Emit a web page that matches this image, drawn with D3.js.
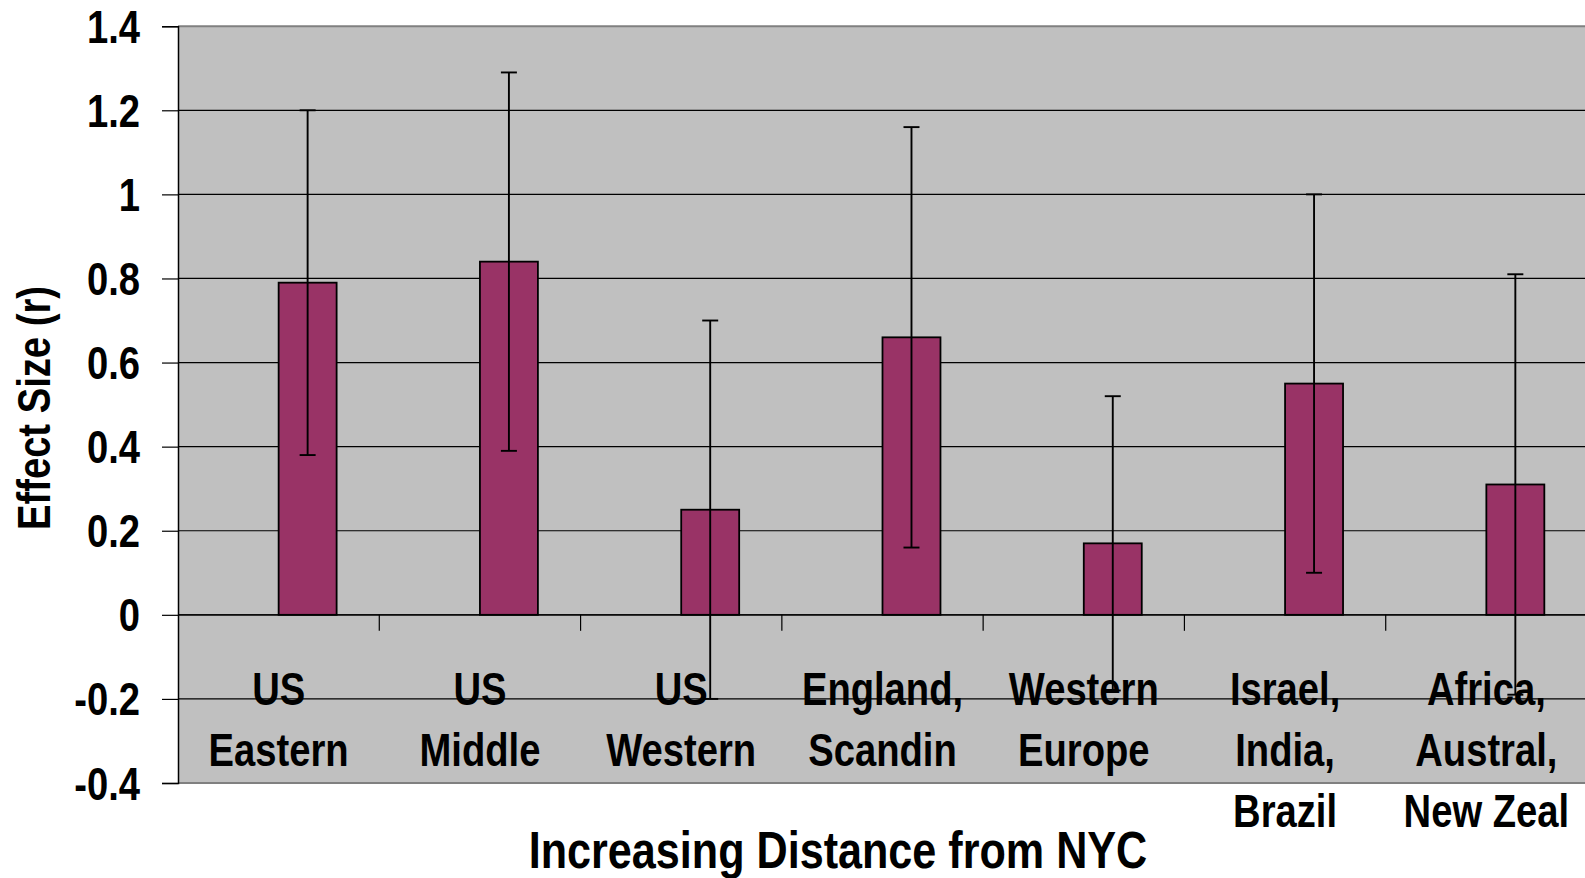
<!DOCTYPE html>
<html><head><meta charset="utf-8">
<script src="https://cdn.jsdelivr.net/npm/d3@7/dist/d3.min.js"></script>
<style>
html,body{margin:0;padding:0;background:#fff;overflow:hidden}
text{font-family:"Liberation Sans",Arial,sans-serif;font-weight:bold;fill:#000}
</style></head>
<body><svg id="c" width="1585" height="878"></svg>
<script>
const categories = [
  ["US","Eastern"],
  ["US","Middle"],
  ["US","Western"],
  ["England,","Scandin"],
  ["Western","Europe"],
  ["Israel,","India,","Brazil"],
  ["Africa,","Austral,","New Zeal"]
];
const effectSize = [0.79, 0.84, 0.25, 0.66, 0.17, 0.55, 0.31];
const errHigh   = [1.20, 1.29, 0.70, 1.16, 0.52, 1.00, 0.81];
const errLow    = [0.38, 0.39, -0.20, 0.16, -0.18, 0.10, -0.19];
const yTicks = [1.4, 1.2, 1, 0.8, 0.6, 0.4, 0.2, 0, -0.2, -0.4];
const yTickLabels = ["1.4", "1.2", "1", "0.8", "0.6", "0.4", "0.2", "0", "-0.2", "-0.4"];
const xTitle = "Increasing Distance from NYC";
const yTitle = "Effect Size (r)";

const SX = 0.83; // narrow font emulation
const svg = d3.select("#c");
const L = 178, R = 1587, T = 26.2, B = 783;
const x = d3.scaleBand().domain(d3.range(categories.length)).range([L, R]).padding(0);
const y = d3.scaleLinear().domain([-0.4, 1.4]).range([B, T]);
const bw = x.bandwidth();
const barW = bw * 0.288;

function ntext(parent, px, py, size, anchor, rot) {
  const g = parent.append("g").attr("transform", `translate(${px},${py})` + (rot ? ` rotate(${rot})` : "") + ` scale(${SX},1)`);
  return g.append("text").attr("font-size", size).attr("text-anchor", anchor);
}

// plot background
svg.append("rect").attr("x", L).attr("y", T).attr("width", R - L).attr("height", B - T).attr("fill", "#c0c0c0");

// gridlines
svg.append("g").selectAll("line").data(yTicks).join("line")
  .attr("x1", L).attr("x2", R)
  .attr("y1", d => y(d)).attr("y2", d => y(d))
  .attr("stroke", d => (d === 1.4 || d === -0.4) ? "#808080" : "#000")
  .attr("stroke-width", d => (d === 1.4 || d === -0.4) ? 2 : 1.2);

// y axis
const yAxis = d3.axisLeft(y).tickValues(yTicks).tickSize(16).tickFormat("");
const ga = svg.append("g").attr("transform", `translate(${L},0)`).call(yAxis);
ga.select(".domain").attr("stroke", "#000").attr("stroke-width", 1.5);
ga.selectAll(".tick line").attr("stroke", "#000").attr("stroke-width", 1.2);
yTicks.forEach((v, i) => {
  ntext(svg, L - 38, y(v), 46, "end").attr("dy", "0.36em").text(yTickLabels[i]);
});

// bars
svg.append("g").selectAll("rect").data(effectSize).join("rect")
  .attr("x", (d, i) => x(i) + bw / 2)
  .attr("width", barW)
  .attr("y", d => y(Math.max(0, d)))
  .attr("height", d => Math.abs(y(d) - y(0)))
  .attr("fill", "#993366").attr("stroke", "#000").attr("stroke-width", 1.8);

// x axis line at zero with category ticks
svg.append("line").attr("x1", L).attr("x2", R).attr("y1", y(0)).attr("y2", y(0)).attr("stroke", "#000").attr("stroke-width", 1.2);
svg.append("g").selectAll("line").data(d3.range(1, categories.length)).join("line")
  .attr("x1", i => x(i)).attr("x2", i => x(i))
  .attr("y1", y(0)).attr("y2", y(0) + 16)
  .attr("stroke", "#000").attr("stroke-width", 1.2);

// error bars
const eb = svg.append("g").attr("stroke", "#000").attr("stroke-width", 1.9);
effectSize.forEach((d, i) => {
  const cx = x(i) + bw / 2 + barW / 2;
  eb.append("line").attr("x1", cx).attr("x2", cx).attr("y1", y(errHigh[i])).attr("y2", y(errLow[i]));
  eb.append("line").attr("x1", cx - 8).attr("x2", cx + 8).attr("y1", y(errHigh[i])).attr("y2", y(errHigh[i]));
  eb.append("line").attr("x1", cx - 8).attr("x2", cx + 8).attr("y1", y(errLow[i])).attr("y2", y(errLow[i]));
});

// category labels
categories.forEach((lines, i) => {
  lines.forEach((s, j) => {
    ntext(svg, x(i) + bw / 2, 705 + j * 61, 46, "middle").text(s);
  });
});

// axis titles
ntext(svg, 838, 868, 52, "middle").text(xTitle);
ntext(svg, 50, 408, 46, "middle", -90).text(yTitle);
</script></body></html>
